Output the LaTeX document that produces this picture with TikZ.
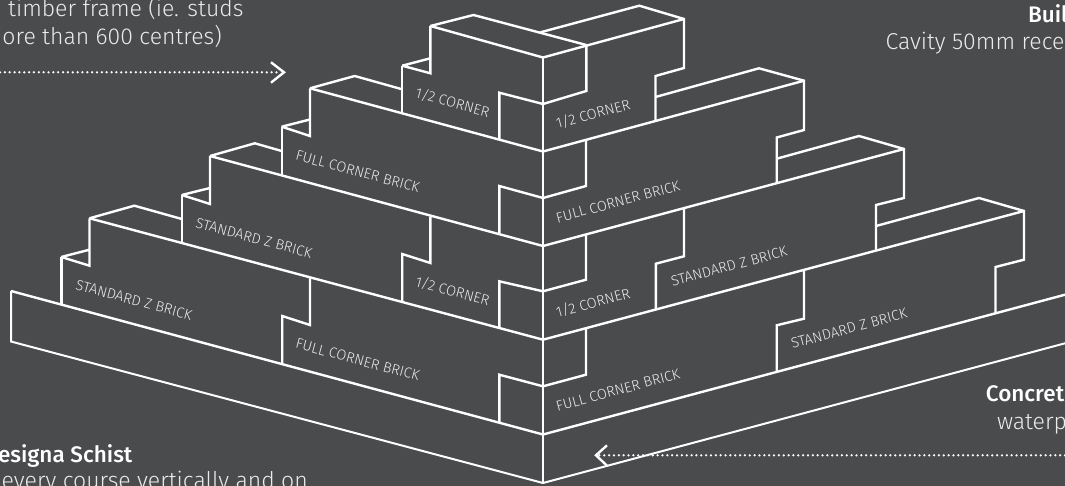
\documentclass[tikz,border=0pt]{standalone}
\usepackage{fontspec}
\setmainfont{Fira Sans}
\newfontfamily\lightf{Fira Sans Light}
\newfontfamily\medf{Fira Sans Medium}
\definecolor{bgc}{HTML}{4A4B4D}
\definecolor{txc}{HTML}{EBEBEB}
\tikzset{
  x=1pt,y=-1pt,
  brick/.style={draw=white,line width=2.4pt,line join=miter,miter limit=3},
  slab/.style={draw=white,line width=2pt,line join=miter},
  dotline/.style={draw=white,line width=2.5pt,line cap=round,dash pattern=on 0pt off 4.85pt},
  chevron/.style={draw=white,line width=2.4pt},
  lface/.style={text=txc,font=\lightf\fontsize{14.5}{16}\selectfont,rotate=-15,inner sep=0pt},
  rface/.style={text=txc,font=\lightf\fontsize{14.5}{16}\selectfont,rotate=15,inner sep=0pt},
  note/.style={text=txc,font=\lightf\fontsize{23}{28}\selectfont,inner sep=0pt},
  head/.style={text=white,font=\medf\fontsize{22.5}{28}\selectfont,inner sep=0pt}
}
\begin{document}
\begin{tikzpicture}
\useasboundingbox[fill=bgc] (0,0) rectangle (1065,486);
% base slab
\draw[slab] (11,291) -- (11,341.5) -- (543,483) -- (1065,343.3);
\draw[slab] (543,434.5) -- (543,483);
% corner
\draw[brick,line width=2.8pt] (543,57.5) -- (543,434.5);
% left face: course lines
\draw[brick] (11,291) -- (543,434.5);
\draw[brick] (89.5,218.3) -- (543,339.7);
\draw[brick] (210,156) -- (543,246);
\draw[brick] (310,88.3) -- (543,151.5);
\draw[brick] (430.4,26) -- (543,57.5);
% left face: top course
\draw[brick] (430.4,26) -- (473.5,15) -- (586.3,45);
\draw[brick] (430.4,26) -- (430.4,73.3) -- (402.2,65.7) -- (430.4,58.3);
\draw[brick] (402.2,65.7) -- (402.2,113.7);
\draw[brick] (499.3,139.3) -- (499.3,92.7) -- (543,104);
% second course
\draw[brick] (310,88.3) -- (354.7,76) -- (402.2,89.3);
\draw[brick] (310,88.3) -- (310,136) -- (281.7,126.7) -- (310,119.5);
\draw[brick] (281.7,126.7) -- (281.7,175.7);
\draw[brick] (499.3,233.3) -- (499.3,186) -- (543,198);
% third course
\draw[brick] (210,156) -- (254.8,143.3) -- (281.7,151);
\draw[brick] (210,156) -- (210,204) -- (181.8,195) -- (210,188);
\draw[brick] (181.8,195) -- (181.8,242.5);
\draw[brick] (430.4,216.7) -- (430.4,263) -- (402.2,254) -- (402.2,302.3);
\draw[brick] (499.3,328) -- (499.3,281.3) -- (543,291.3);
% fourth course
\draw[brick] (89.5,218.3) -- (134.3,205.7) -- (181.8,219);
\draw[brick] (89.5,218.3) -- (89.5,265.7) -- (61.3,257) -- (89.5,249.7);
\draw[brick] (61.3,257) -- (61.3,305);
\draw[brick] (310,278) -- (310,325) -- (282.2,316) -- (282.2,364.7);
\draw[brick] (499.3,423) -- (499.3,374.7) -- (543,386.3);
% right face: course lines
\draw[brick] (543,434.5) -- (1065,294.7);
\draw[brick] (543,339.7) -- (1024,211);
\draw[brick] (543,246) -- (904,149);
\draw[brick] (543,151.5) -- (804,80.7);
\draw[brick] (543,57.5) -- (684,19);
% right face: top course
\draw[brick] (540.5,32.3) -- (639.3,5.7) -- (684,19) -- (684,68) -- (655.5,76) -- (655.5,121);
\draw[brick] (586.3,45) -- (586.3,91) -- (543,104);
% second course
\draw[brick] (655.5,97) -- (759,68.3) -- (804,80.7) -- (804,130) -- (776.7,137.5) -- (776.7,183);
\draw[brick] (586,139.5) -- (586,186) -- (543,198);
% third course
\draw[brick] (776.7,158.7) -- (859,136) -- (904,149) -- (904,198) -- (876,205) -- (876,250.6);
\draw[brick] (684,208) -- (684,256.3) -- (655.9,263.7) -- (655.9,309.5);
\draw[brick] (586,234.5) -- (586,279.7) -- (543,291.3);
% fourth course
\draw[brick] (876,226) -- (979,198) -- (1024,211) -- (1024,259.7) -- (995.5,267) -- (995.5,313);
\draw[brick] (804,270) -- (804,318.7) -- (776.7,325.3) -- (776.7,371.7);
\draw[brick] (586,328.2) -- (586,374.7) -- (543,386.3);
% labels left
\node[lface] (l1) at (452.5,102.5) {1/2 CORNER};
\node[lface] (l2) at (357.7,171.5) {FULL CORNER BRICK};
\node[lface] (l3) at (254,238) {STANDARD Z BRICK};
\node[lface] (l4) at (452.5,291) {1/2 CORNER};
\node[lface] (l5) at (357.7,359.7) {FULL CORNER BRICK};
\node[lface] (l6) at (134,300) {STANDARD Z BRICK};
% labels right
\node[rface] (r1) at (593,114) {1/2 CORNER};
\node[rface] (r2) at (618,201.7) {FULL CORNER BRICK};
\node[rface] (r3) at (593,302.7) {1/2 CORNER};
\node[rface] (r4) at (729,266.3) {STANDARD Z BRICK};
\node[rface] (r5) at (618,390) {FULL CORNER BRICK};
\node[rface] (r6) at (849,328.5) {STANDARD Z BRICK};
% notes
\node[note,anchor=base west] (n1) at (8,16.7) {timber frame (ie. studs};
\node[note,anchor=base east] (n2) at (222,44.5) {ore than 600 centres)};
\node[head,anchor=base west] (n3) at (1027.8,22.7) {Buil};
\node[note,anchor=base west] (n4) at (885.5,50) {Cavity 50mm rece};
\node[head,anchor=base west] (n5) at (985.7,401) {Concret};
\node[note,anchor=base west] (n6) at (996.8,429.7) {waterp};
\node[head,anchor=base east] (n7) at (132.6,462.3) {esigna Schist};
\node[note,anchor=base east] (n8) at (308,488) {every course vertically and on};
% arrows
\coordinate (a1s) at (0,72.3);
\coordinate (a1e) at (284,72.3);
\coordinate (a2s) at (1065,455.3);
\coordinate (a2e) at (596,455.3);
\draw[dotline] (a1s) -- (281,72.3);
\draw[chevron] (271,62.3) -- (a1e) -- (271,82.7);
\draw[dotline] (a2s) -- (599,455.3);
\draw[chevron] (607,445.3) -- (a2e) -- (607,465.7);
\end{tikzpicture}
\end{document}
